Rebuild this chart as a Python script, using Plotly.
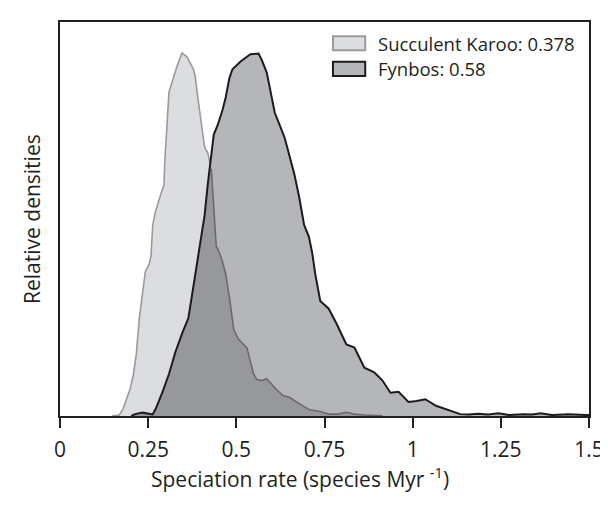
import numpy as np
import plotly.graph_objects as go

# Succulent Karoo posterior density (speciation rate, relative density)
karoo_x = [0.147, 0.168, 0.179, 0.189, 0.198, 0.207, 0.216, 0.225, 0.235, 0.242, 0.253, 0.258, 0.263, 0.270,
           0.281, 0.295, 0.297, 0.302, 0.306, 0.309, 0.318, 0.332, 0.346, 0.360, 0.378, 0.383, 0.392, 0.401,
           0.410, 0.419, 0.429, 0.438, 0.443, 0.452, 0.461, 0.470, 0.480, 0.493, 0.507, 0.530, 0.540, 0.549,
           0.558, 0.572, 0.586, 0.604, 0.632, 0.651, 0.678, 0.706, 0.729, 0.762, 0.789, 0.812, 0.835, 0.863,
           0.887, 0.923]
karoo_y = [0, 0.01, 0.08, 0.18, 0.28, 0.42, 0.65, 1.05, 1.32, 1.55, 1.63, 1.72, 2.05, 2.18,
           2.32, 2.48, 2.72, 3.05, 3.35, 3.47, 3.58, 3.75, 3.89, 3.85, 3.72, 3.65, 3.38, 3.12,
           2.88, 2.82, 2.65, 2.05, 1.82, 1.75, 1.65, 1.52, 1.28, 0.92, 0.82, 0.73, 0.58, 0.45,
           0.39, 0.38, 0.40, 0.32, 0.22, 0.20, 0.13, 0.07, 0.06, 0.02, 0.02, 0.04, 0.02, 0.01,
           0.01, 0]

# Fynbos posterior density
fynbos_x = [0.202, 0.213, 0.234, 0.253, 0.263, 0.272, 0.290, 0.309, 0.327, 0.346, 0.364, 0.378, 0.392,
            0.401, 0.410, 0.419, 0.429, 0.436, 0.447, 0.461, 0.470, 0.480, 0.489, 0.512, 0.540, 0.563,
            0.572, 0.586, 0.595, 0.609, 0.623, 0.637, 0.651, 0.665, 0.678, 0.692, 0.706, 0.715, 0.724,
            0.738, 0.762, 0.785, 0.812, 0.835, 0.863, 0.891, 0.914, 0.937, 0.960, 0.988, 1.011, 1.036,
            1.066, 1.115, 1.135, 1.159, 1.185, 1.214, 1.244, 1.273, 1.313, 1.339, 1.363, 1.395, 1.442,
            1.492, 1.5]
fynbos_y = [0, 0.02, 0.036, 0.027, 0.017, 0.083, 0.25, 0.45, 0.683, 0.883, 1.05, 1.383, 1.717,
            1.917, 2.15, 2.483, 2.783, 3.017, 3.117, 3.283, 3.417, 3.617, 3.717, 3.80, 3.877, 3.885,
            3.817, 3.683, 3.517, 3.25, 3.117, 2.983, 2.783, 2.583, 2.35, 2.05, 1.917, 1.75, 1.517,
            1.233, 1.15, 0.983, 0.767, 0.733, 0.517, 0.467, 0.383, 0.25, 0.26, 0.15, 0.16, 0.18,
            0.11, 0.05, 0.02, 0.015, 0.025, 0.015, 0.03, 0.01, 0.02, 0.015, 0.03, 0.01, 0.02,
            0.01, 0.01]

legend_labels = ["Succulent Karoo: 0.378", "Fynbos: 0.58"]
tick_vals = [0, 0.25, 0.5, 0.75, 1, 1.25, 1.5]
tick_text = ["0", "0.25", "0.5", "0.75", "1", "1.25", "1.5"]
x_title = "Speciation rate (species Myr <sup>-1</sup>)"
y_title = "Relative densities"

KAROO_FILL = "#dcdde0"
KAROO_LINE = "#9a9a9a"
KAROO_LINE_DARK = "#6a6a6c"
FYN_FILL = "#b5b6b9"
FYN_LINE = "#1c1c1c"
OVERLAP_FILL = "#97989c"
AXIS = "#231f20"
TEXT = "#231f20"
FONT = "Open Sans"

# overlap region (min of the two densities on a common grid)
grid = np.union1d(karoo_x, fynbos_x)
k_on = np.interp(grid, karoo_x, karoo_y, left=0, right=0)
f_on = np.interp(grid, fynbos_x, fynbos_y, left=0, right=0)
overlap = np.minimum(k_on, f_on)
k_dark = np.where((k_on <= f_on + 1e-9) & (k_on > 0), k_on, np.nan)

fig = go.Figure()
fig.add_trace(go.Scatter(x=karoo_x, y=karoo_y, fill="tozeroy", fillcolor=KAROO_FILL,
                         mode="lines", line=dict(color=KAROO_LINE, width=1.6), showlegend=False))
fig.add_trace(go.Scatter(x=fynbos_x, y=fynbos_y, fill="tozeroy", fillcolor=FYN_FILL,
                         mode="lines", line=dict(width=0), showlegend=False))
fig.add_trace(go.Scatter(x=grid, y=overlap, fill="tozeroy", fillcolor=OVERLAP_FILL,
                         mode="lines", line=dict(width=0), showlegend=False))
fig.add_trace(go.Scatter(x=grid, y=k_dark, mode="lines", connectgaps=False,
                         line=dict(color=KAROO_LINE_DARK, width=1.6), showlegend=False))
fig.add_trace(go.Scatter(x=fynbos_x, y=fynbos_y, mode="lines",
                         line=dict(color=FYN_LINE, width=2), showlegend=False))

# custom legend
legend_boxes = [(0.964, 0.928, KAROO_FILL, KAROO_LINE), (0.899, 0.863, FYN_FILL, FYN_LINE)]
for (y1, y0, fc, lc), label in zip(legend_boxes, legend_labels):
    fig.add_shape(type="rect", xref="paper", yref="paper", x0=0.516, x1=0.577, y0=y0, y1=y1,
                  fillcolor=fc, line=dict(color=lc, width=2))
    fig.add_annotation(xref="paper", yref="paper", x=0.597, y=(y0 + y1) / 2, text=label,
                       showarrow=False, xanchor="left", yanchor="middle",
                       font=dict(size=18.5, color=TEXT, family=FONT))

# axis titles
fig.add_annotation(xref="paper", yref="paper", x=0.453, y=-0.157, text=x_title,
                   showarrow=False, xanchor="center", yanchor="middle",
                   font=dict(size=21, color=TEXT, family=FONT))
fig.add_annotation(xref="paper", yref="paper", x=-0.053, y=0.50, text=y_title, textangle=-90,
                   showarrow=False, xanchor="center", yanchor="middle",
                   font=dict(size=21, color=TEXT, family=FONT))

fig.update_layout(
    width=608, height=517,
    margin=dict(l=52, r=15, t=12, b=109),
    plot_bgcolor="white", paper_bgcolor="white",
    font=dict(family=FONT, size=21, color=TEXT),
)
fig.update_xaxes(range=[0, 1.5], tickvals=tick_vals, ticktext=tick_text, ticks="outside",
                 ticklen=10, tickwidth=2, tickcolor=AXIS, showline=True, mirror=True,
                 linewidth=2, linecolor=AXIS, showgrid=False, zeroline=False,
                 tickfont=dict(size=21, color=TEXT), ticklabelstandoff=4)
fig.update_yaxes(range=[0, 4.223], showticklabels=False, ticks="", showline=True, mirror=True,
                 linewidth=2, linecolor=AXIS, showgrid=False, zeroline=False)

fig.write_html("out.html")
